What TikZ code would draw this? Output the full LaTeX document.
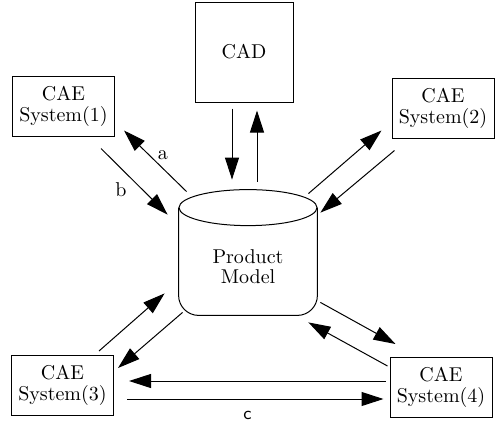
\documentclass[tikz,border=0pt]{standalone}
\usepackage{tikz}
\usetikzlibrary{arrows.meta,calc}
\tikzset{
  sysbox/.style={draw=black,line width=0.5pt,minimum width=51pt,minimum height=30pt,
                 align=center,inner sep=1pt,font=\fontsize{10pt}{10.5pt}\selectfont},
  cadbox/.style={sysbox,minimum width=49pt,minimum height=50pt},
  dbshape/.style={minimum width=69pt,minimum height=62.5pt,inner sep=0pt},
  dbtext/.style={align=center,inner sep=0pt,font=\fontsize{10pt}{10pt}\selectfont},
  flowarr/.style={-{Triangle[length=11pt,width=7pt]},line width=0.5pt,draw=black},
  lbl/.style={font=\normalsize,inner sep=1pt}
}

\begin{document}
\begin{tikzpicture}[x=0.5pt,y=-0.5pt]
    \path[use as bounding box] (0,0) rectangle (499,425);

    % boxes
    \node[cadbox] (cad) at (244,52) {CAD};
    \node[sysbox] (cae1) at (63.5,106) {CAE\\System(1)};
    \node[sysbox] (cae2) at (443,108) {CAE\\System(2)};
    \node[sysbox] (cae3) at (62.5,385.5) {CAE\\System(3)};
    \node[sysbox] (cae4) at (441,387.5) {CAE\\System(4)};

    % product model drum
    \node[dbshape] (pm) at (248,252.5) {};
    \node[dbtext] (pmtext) at (248,267) {Product\\Model};
    \draw[line width=0.5pt,rounded corners=10pt]
      ($(pm.north west)+(0,18)$) -- (pm.south west) -- (pm.south east)
      -- ($(pm.north east)+(0,18)$);
    \draw[line width=0.5pt] ($(pm.north)+(0,18)$) ellipse [x radius=34.5pt,y radius=9pt];

    % CAD
    \draw[flowarr] ($(cad.south)+(-12,6)$) -- ($(pm.north)+(-16,-10)$);
    \draw[flowarr] ($(pm.north)+(9,-8)$) -- ($(cad.south)+(13,8)$);

    % CAE System(1)
    \draw[flowarr] ($(pm.north west)+(8,2)$) -- ($(cae1.south east)+(9,-6)$)
      node[lbl,pos=0.38,above=3pt] {a};
    \draw[flowarr] ($(cae1.south east)+(-14,12)$) -- ($(pm.north west)+(-11,25)$)
      node[lbl,pos=0.3,below=6pt] {b};

    % CAE System(2)
    \draw[flowarr] ($(pm.north east)+(-9,4)$) -- ($(cae2.south west)+(-10,-8)$);
    \draw[flowarr] ($(cae2.south west)+(3,12)$) -- ($(pm.north east)+(3,23)$);

    % CAE System(3)
    \draw[flowarr] ($(cae3.north east)+(-15,-4)$) -- ($(pm.south west)+(-14,-22)$);
    \draw[flowarr] ($(pm.south west)+(4,-3)$) -- ($(cae3.north east)+(4,13)$);

    % CAE System(4)
    \draw[flowarr] ($(pm.south east)+(3,-13)$) -- ($(cae4.north west)+(6,-13)$);
    \draw[flowarr] ($(cae4.north west)+(-2,9)$) -- ($(pm.south east)+(-9,7)$);

    % System(3) <-> System(4)
    \draw[flowarr] ($(cae4.west)+(-4,-6.5)$) -- ($(cae3.east)+(15,-4.5)$);
    \draw[flowarr] ($(cae3.east)+(13,13.5)$) -- ($(cae4.west)+(-6,11.5)$)
      node[lbl,pos=0.47,below=5pt,font=\sffamily\small] {c};
\end{tikzpicture}
\end{document}
